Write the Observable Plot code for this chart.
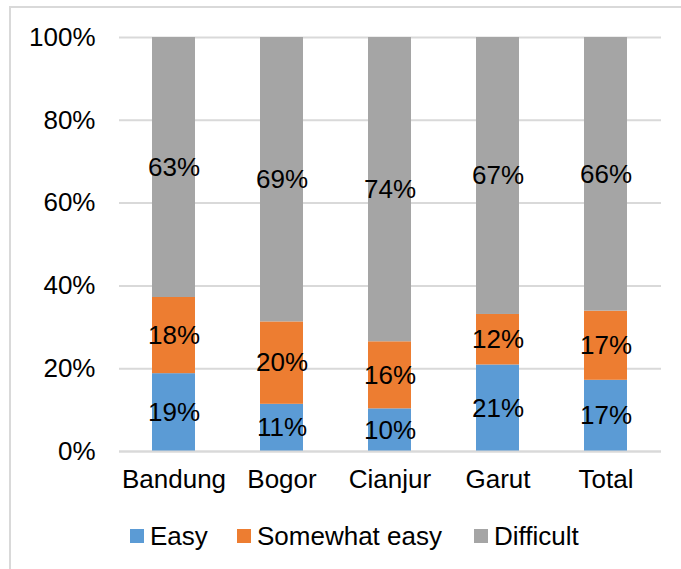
<!DOCTYPE html>
<html>
<head>
<meta charset="utf-8">
<script src="https://cdn.jsdelivr.net/npm/d3@7"></script>
<script src="https://cdn.jsdelivr.net/npm/@observablehq/plot@0.6"></script>
<style>
  body { margin: 0; background: #fff; }
  #wrap { position: relative; width: 681px; height: 569px; overflow: hidden; font-family: "Liberation Sans", Arial, sans-serif; }
  #frame { position: absolute; left: 9px; top: 6px; width: 720px; height: 620px; border: 2px solid #d9d9d9; box-sizing: border-box; }
  #chart { position: absolute; left: 0; top: 0; }
  #legend { position: absolute; top: 519px; left: 0; width: 681px; height: 34px; font-size: 26px; color: #000; }
  .item { position: absolute; top: 0; display: flex; align-items: center; height: 34px; }
  .sw { width: 14px; height: 14px; margin-right: 6px; }
</style>
</head>
<body>
<div id="wrap">
  <div id="frame"></div>
  <div id="chart"></div>
  <div id="legend"></div>
</div>
<script>
const categories = ["Bandung", "Bogor", "Cianjur", "Garut", "Total"];
const series = ["Easy", "Somewhat easy", "Difficult"];
const easy = [18.8, 11.4, 10.3, 20.9, 17.2];
const somewhatEasy = [18.4, 19.9, 16.2, 12.2, 16.7];
const difficult = [62.8, 68.7, 73.5, 66.9, 66.1];
const colors = ["#5B9BD5", "#ED7D31", "#A5A5A5"];
const yTicks = [0, 20, 40, 60, 80, 100];

const valuesBySeries = [easy, somewhatEasy, difficult];
const data = [];
categories.forEach((c, i) => {
  series.forEach((s, j) => {
    data.push({category: c, series: s, value: valuesBySeries[j][i]});
  });
});

const plot = Plot.plot({
  width: 681,
  height: 500,
  marginLeft: 119,
  marginRight: 20,
  marginTop: 37,
  marginBottom: 49,
  style: {fontFamily: "'Liberation Sans', Arial, sans-serif", fontSize: "26px", color: "#000", background: "transparent"},
  x: {domain: categories, paddingInner: 0.6, paddingOuter: 0.3, label: null, tickSize: 0, tickPadding: 18},
  y: {domain: [0, 100], ticks: yTicks, label: null, tickSize: 0, tickPadding: 24, tickFormat: d => d + "%"},
  color: {domain: series, range: colors},
  marks: [
    Plot.gridY(yTicks, {stroke: "#d9d9d9", strokeOpacity: 1, strokeWidth: 2}),
    Plot.barY(data, {x: "category", y: "value", fill: "series", z: "series"}),
    Plot.ruleY([0], {stroke: "#d9d9d9", strokeWidth: 2}),
    Plot.text(data, Plot.stackY({x: "category", y: "value", z: "series", text: d => Math.round(d.value) + "%", fill: "#000", fontSize: 26}))
  ]
});
document.getElementById("chart").appendChild(plot);

const legendPos = [130, 237, 474];
const legend = document.getElementById("legend");
series.forEach((s, i) => {
  const item = document.createElement("div");
  item.className = "item";
  item.style.left = legendPos[i] + "px";
  const sw = document.createElement("div");
  sw.className = "sw";
  sw.style.background = colors[i];
  const t = document.createElement("span");
  t.textContent = s;
  item.appendChild(sw);
  item.appendChild(t);
  legend.appendChild(item);
});
</script>
</body>
</html>
